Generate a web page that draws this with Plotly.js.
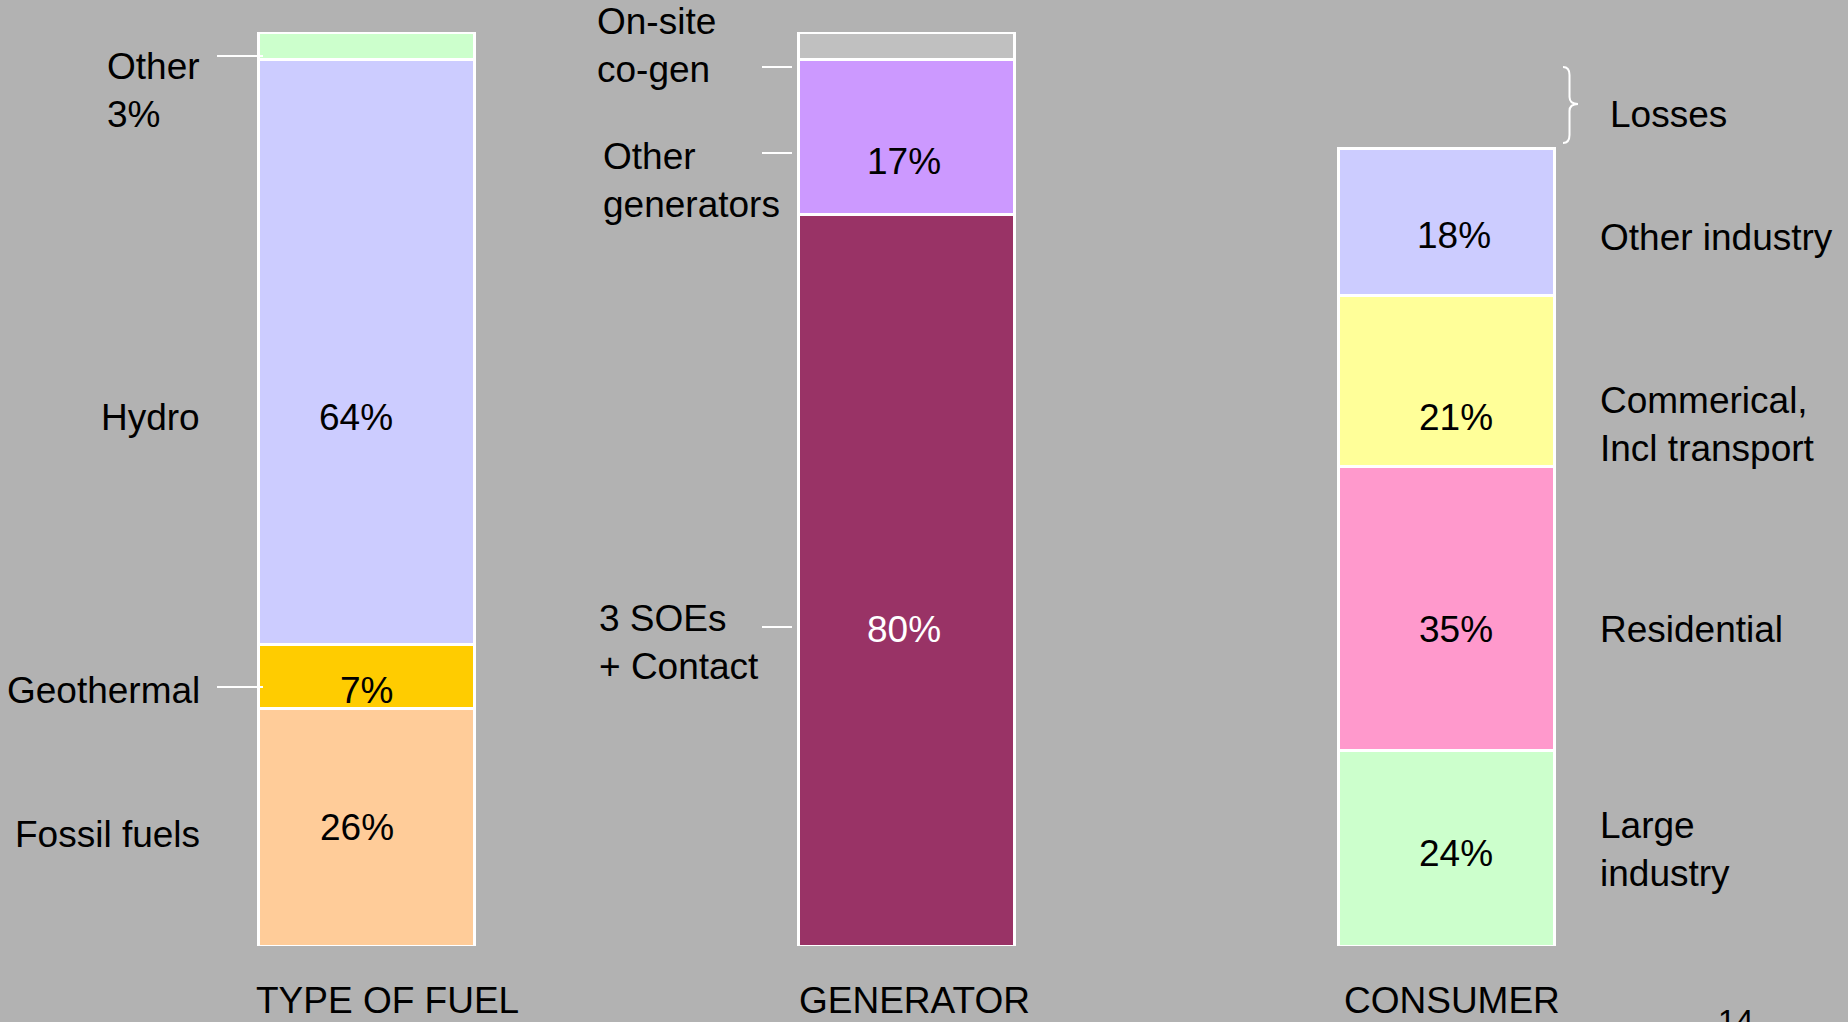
<!DOCTYPE html>
<html>
<head>
<meta charset="utf-8">
<script src="https://cdn.plot.ly/plotly-3.0.1.min.js"></script>
<style>
  html, body { margin: 0; padding: 0; background: #b2b2b2; overflow: hidden; }
  #chart { width: 1848px; height: 1022px; }
</style>
</head>
<body>
<div id="chart"></div>
<script>
// ---- Electricity shares (%) ----
const columnTitles = ['TYPE OF FUEL', 'GENERATOR', 'CONSUMER'];

const fuelLabels = ['Fossil fuels', 'Geothermal', 'Hydro', 'Other'];
const fuelShares = [26, 7, 64, 3];

const generatorLabels = ['3 SOEs<br>+ Contact', 'Other<br>generators', 'On-site<br>co-gen'];
const generatorShares = [80, 17, 3];

const consumerLabels = ['Large<br>industry', 'Residential', 'Commerical,<br>Incl transport', 'Other industry'];
const consumerShares = [24, 35, 21, 18];

// share of generated electricity lost before reaching consumers (estimate)
const lossesShare = 11;
const lossesLabel = 'Losses';

const pageNumber = '14';

// ---- Styling ----
const fuelColors = ['#FFCC99', '#FFCC00', '#CCCCFF', '#CCFFCC'];
const generatorColors = ['#993366', '#CC99FF', '#C0C0C0'];
const consumerColors = ['#CCFFCC', '#FF99CC', '#FFFF99', '#CCCCFF'];

const FONT = '"Liberation Sans", Arial, Helvetica, sans-serif';
const FS = 37;
const BG = '#B2B2B2';

const W = 1848, H = 1022;
const M = { l: 0, r: 0, t: 32, b: 76 };
const plotH = H - M.t - M.b;
const columnPitch = 540;     // px between column centres
const firstCentre = 366;     // px of first column centre
const barWidth = 0.4;        // in column units

const px = x => x / W;                      // page px -> paper x
const py = y => (H - M.b - y) / plotH;      // page px -> paper y

// consumer shares are % of delivered electricity, drawn on their own axis
const consumerAxisMax = 100 * 100 / (100 - lossesShare);

function columnTraces(col, labels, shares, colors, yaxis) {
  return shares.map((v, i) => ({
    type: 'bar',
    x: [col],
    y: [v],
    width: [barWidth],
    name: labels[i].replace(/<br>/g, ' '),
    yaxis: yaxis,
    marker: { color: colors[i], line: { color: '#FFFFFF', width: 3 } },
    hoverinfo: 'skip',
    showlegend: false
  }));
}

const traces = [
  ...columnTraces(0, fuelLabels, fuelShares, fuelColors, 'y'),
  ...columnTraces(1, generatorLabels, generatorShares, generatorColors, 'y'),
  ...columnTraces(2, consumerLabels, consumerShares, consumerColors, 'y2')
];

// ---- Label placement (page pixels) ----
// side labels: [x, y centre, xanchor, value shown beside the name]
const fuelSidePos = [[202, 834, 'right'], [202, 690, 'right'], [202, 418, 'right'], [202, 90, 'right', true]];
const generatorSidePos = [[597, 642, 'left'], [601, 180, 'left'], [595, 45, 'left']];
const consumerSidePos = [[1598, 849, 'left'], [1598, 629, 'left'], [1598, 425, 'left'], [1598, 237, 'left']];
// value labels inside bars: [x shift from bar centre, y centre] (null = no inner label)
const fuelValuePos = [[-9, 827], [0, 690], [-10, 418], null];
const generatorValuePos = [[-2, 629], [-2, 162], null];
const consumerValuePos = [[10, 853], [10, 629], [10, 418], [8, 236]];

const annotations = [];
function textAnn(text, x, y, xanchor, color, extra) {
  annotations.push(Object.assign({
    text: text, xref: 'paper', yref: 'paper', x: px(x), y: py(y),
    xanchor: xanchor, yanchor: 'middle', align: 'left', showarrow: false,
    font: { family: FONT, size: FS, color: color || '#000000' }
  }, extra || {}));
}

function addColumnLabels(col, labels, shares, sidePos, valuePos, valueColors) {
  labels.forEach((lab, i) => {
    const s = sidePos[i];
    const text = s[3] ? lab + '<br>' + shares[i] + '%' : lab;
    textAnn(text, s[0], s[1], s[2]);
    const v = valuePos[i];
    if (v) {
      const cx = firstCentre + col * columnPitch + v[0];
      textAnn(shares[i] + '%', cx, v[1], 'center', valueColors[i]);
    }
  });
}

addColumnLabels(0, fuelLabels, fuelShares, fuelSidePos, fuelValuePos, ['#000', '#000', '#000', '#000']);
addColumnLabels(1, generatorLabels, generatorShares, generatorSidePos, generatorValuePos, ['#FFFFFF', '#000', '#000']);
addColumnLabels(2, consumerLabels, consumerShares, consumerSidePos, consumerValuePos, ['#000', '#000', '#000', '#000']);

textAnn(lossesLabel, 1608, 115, 'left');

// column titles under the bars
const titleLeft = [254, 797, 1342];
columnTitles.forEach((t, i) => textAnn(t, titleLeft[i], 1000, 'left'));

// page number, partly below the page edge
textAnn(pageNumber, 1736, 1021, 'center', '#000', { font: { family: FONT, size: 32, color: '#000' } });

// ---- Leader lines and brace ----
const leaders = [
  [217, 263, 56], [217, 263, 687],
  [762, 792, 67], [762, 792, 153], [762, 792, 627]
];
const shapes = leaders.map(l => ({
  type: 'line', xref: 'paper', yref: 'paper',
  x0: px(l[0]), x1: px(l[1]), y0: py(l[2]), y1: py(l[2]),
  line: { color: '#FFFFFF', width: 2 }
}));

function pathFrom(cmds) {
  return cmds.map(c => c[0] + ' ' + c.slice(1).reduce((acc, v, k, arr) => {
    if (k % 2 === 0) acc.push(px(v).toFixed(5) + ',' + py(arr[k + 1]).toFixed(5));
    return acc;
  }, []).join(' ')).join(' ');
}
shapes.push({
  type: 'path', xref: 'paper', yref: 'paper',
  path: pathFrom([
    ['M', 1563, 67],
    ['Q', 1569.5, 67, 1569.5, 75],
    ['L', 1569.5, 97],
    ['Q', 1569.5, 104, 1578, 104],
    ['Q', 1569.5, 104, 1569.5, 111],
    ['L', 1569.5, 135],
    ['Q', 1569.5, 143, 1563, 143]
  ]),
  line: { color: '#FFFFFF', width: 2 }
});

const layout = {
  width: W, height: H,
  margin: M,
  paper_bgcolor: BG, plot_bgcolor: BG,
  barmode: 'stack',
  showlegend: false,
  xaxis: {
    range: [-firstCentre / columnPitch, (W - firstCentre) / columnPitch],
    visible: false, fixedrange: true
  },
  yaxis: { range: [0, 100], visible: false, fixedrange: true },
  yaxis2: { range: [0, consumerAxisMax], overlaying: 'y', visible: false, fixedrange: true },
  annotations: annotations,
  shapes: shapes
};

Plotly.newPlot('chart', traces, layout, { staticPlot: true, displayModeBar: false });
</script>
</body>
</html>
